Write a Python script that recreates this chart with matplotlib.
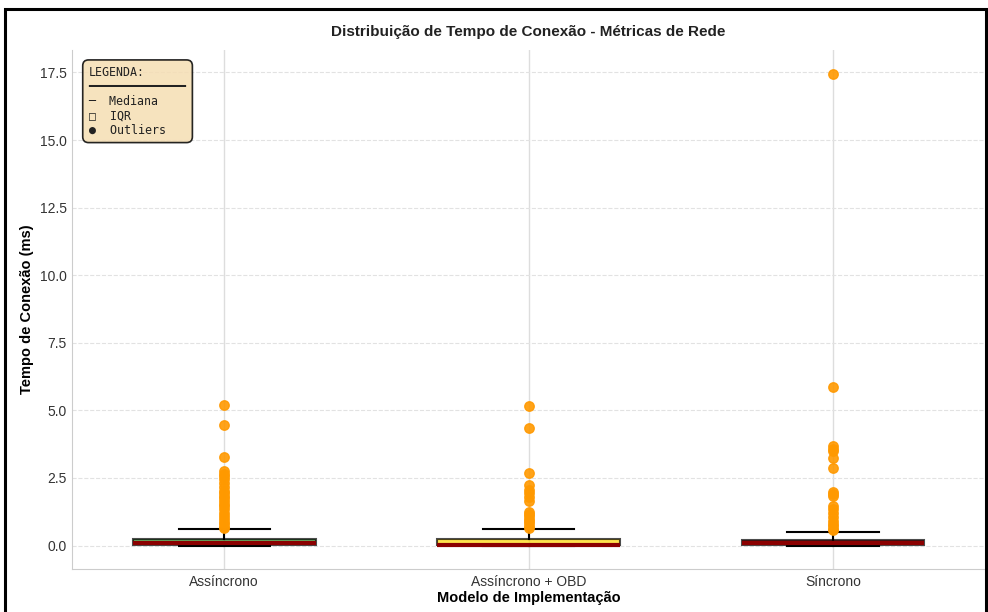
import numpy as np
import matplotlib
matplotlib.use("Agg")
import matplotlib.pyplot as plt
from matplotlib.patches import Rectangle

plt.rcParams["font.family"] = ["Liberation Sans", "DejaVu Sans"]

# ── dados ───────────────────────────────────────────────────────────────────
modelos = ["Assíncrono", "Assíncrono + OBD", "Síncrono"]
cores = ["forestgreen", "gold", "darkred"]

q1 = [0.02, 0.01, 0.02]
mediana = [0.08, 0.03, 0.10]
q3 = [0.26, 0.26, 0.22]
whis_lo = [0.0, 0.0, 0.0]
whis_hi = [0.62, 0.62, 0.52]

outliers_async = [5.19, 4.47, 3.27, 2.75, 2.66, 2.56, 2.45, 2.30, 2.15, 2.00,
                  1.93, 1.85, 1.75, 1.65, 1.55, 1.45, 1.35, 1.22, 1.10, 0.97,
                  0.88, 0.78, 0.70, 0.66]
outliers_obd = [5.17, 4.34, 2.67, 2.25, 2.05, 1.94, 1.78, 1.63, 1.26, 1.15,
                1.09, 0.98, 0.91, 0.82, 0.72, 0.66]
outliers_sync = [17.45, 5.85, 3.68, 3.58, 3.50, 3.23, 2.86, 1.99, 1.92, 1.84,
                 1.47, 1.35, 1.19, 1.05, 0.91, 0.80, 0.72, 0.62, 0.57]
outliers = [outliers_async, outliers_obd, outliers_sync]

# ── figura ──────────────────────────────────────────────────────────────────
fig = plt.figure(figsize=(9.88, 6.12), dpi=100)
ax = fig.add_axes([0.073, 0.070, 0.924, 0.848])

stats = []
for i in range(len(modelos)):
    stats.append(dict(label=modelos[i], q1=q1[i], med=mediana[i], q3=q3[i],
                      whislo=whis_lo[i], whishi=whis_hi[i], fliers=outliers[i]))

bp = ax.bxp(stats, positions=range(len(modelos)), widths=0.6, patch_artist=True,
            boxprops=dict(linewidth=1.5, edgecolor="black"),
            medianprops=dict(color="darkred", linewidth=3),
            whiskerprops=dict(color="black", linewidth=1.5),
            capprops=dict(color="black", linewidth=1.5),
            flierprops=dict(marker="o", markerfacecolor="#FF9900",
                            markeredgecolor="#FF9900", markersize=6.8, alpha=0.9))

for patch, cor in zip(bp["boxes"], cores):
    patch.set_facecolor(cor)
    patch.set_alpha(0.7)

ax.set_xlim(-0.5, 2.5)

# grade: verticais sólidas, horizontais tracejadas
ax.set_axisbelow(True)
ax.grid(axis="x", color="#dddddd", linewidth=1, linestyle="-")
ax.grid(axis="y", color="#e2e2e2", linewidth=0.8, linestyle="--")

for s in ["top", "right"]:
    ax.spines[s].set_visible(False)
for s in ["left", "bottom"]:
    ax.spines[s].set_color("#cccccc")
ax.tick_params(axis="both", length=0, colors="#333333", labelsize=10, pad=4)

ax.set_title("Distribuição de Tempo de Conexão - Métricas de Rede",
             fontsize=11, fontweight="bold", color="#222222", pad=10)
ax.set_xlabel("Modelo de Implementação", fontsize=10.5, fontweight="bold", labelpad=2)
ax.set_ylabel("Tempo de Conexão (ms)", fontsize=10.5, fontweight="bold", labelpad=4)

legenda = "LEGENDA:\n" + "━" * 14 + "\n─  Mediana\n□  IQR\n●  Outliers"
ax.text(0.018, 0.970, legenda, transform=ax.transAxes, va="top", ha="left",
        family="DejaVu Sans Mono", fontsize=8.4, color="#222222", linespacing=1.15,
        bbox=dict(boxstyle="round,pad=0.5", facecolor="wheat", alpha=0.85,
                  edgecolor="black", linewidth=1.2))

# moldura preta da figura
fig.patches.append(Rectangle((5 / 988, -0.05), 981 / 988, 1.05 - 9 / 612,
                             transform=fig.transFigure, fill=False,
                             edgecolor="black", linewidth=2.2, zorder=10))

fig.savefig("out.png", dpi=100)
